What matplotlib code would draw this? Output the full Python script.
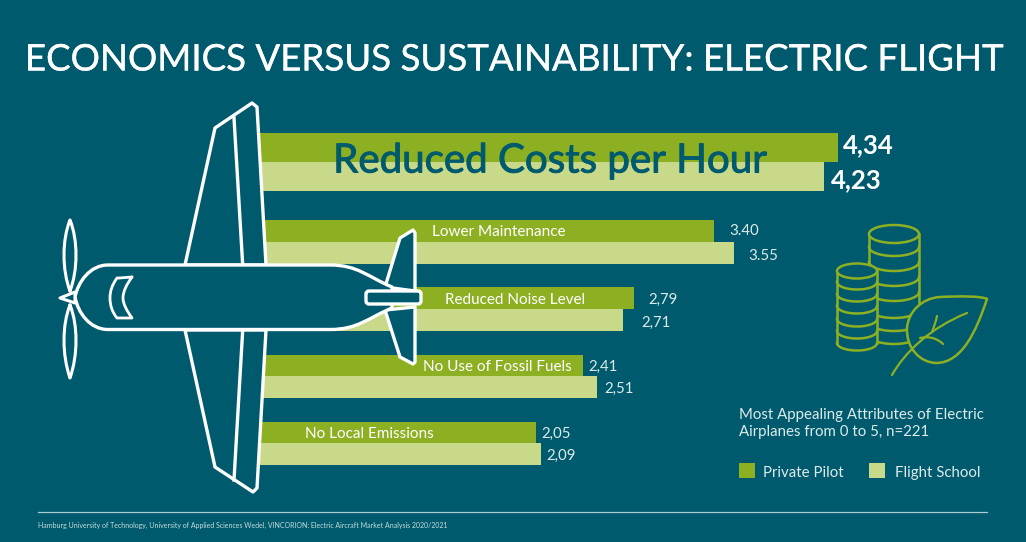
import numpy as np
import matplotlib
matplotlib.use("Agg")
import matplotlib.pyplot as plt
from matplotlib.path import Path
from matplotlib.patches import PathPatch, Polygon, Ellipse, Rectangle, FancyBboxPatch
import matplotlib.patheffects as pe

# Chart data
attributes = ["Reduced Costs per Hour", "Lower Maintenance", "Reduced Noise Level",
              "No Use of Fossil Fuels", "No Local Emissions"]
private_pilot = [4.34, 3.40, 2.79, 2.41, 2.05]
flight_school = [4.23, 3.55, 2.71, 2.51, 2.09]
private_labels = ["4,34", "3.40", "2,79", "2,41", "2,05"]
school_labels = ["4,23", "3.55", "2,71", "2,51", "2,09"]

# Colours
BG = "#005a6e"
GREEN = "#8db023"
LIGHT = "#c8d98a"
WHITE = "#ffffff"
SOFT = "#dcebe9"

# Layout, everything measured in pixels of the 1026x542 picture
W, H = 1026, 542
X_ZERO = 264.7
PX_PER_UNIT = 132.2
BAR_BASE = -0.1
row_top = [133, 220, 287.3, 354.7, 421.7]
row_mid = [161.7, 242.3, 309, 376, 443.3]
row_bottom = [190.7, 264, 330.7, 398, 465]
attr_x = [550, 499, 515, 497, 369]
attr_y = [161, 232, 300, 367, 434]
attr_size = [29, 11, 11, 11, 11]
value_size = [18.5, 10.8, 10.8, 10.8, 10.8]
private_label_x = [843, 729, 648, 588, 541]
private_label_y = [145, 231, 300, 367, 434]
school_label_x = [831, 748, 641, 604, 546]
school_label_y = [180, 256, 323, 389, 456]

plt.rcParams["font.family"] = ["Lato", "DejaVu Sans"]
fig = plt.figure(figsize=(W / 100, H / 100), dpi=100, facecolor=BG)

# Bars live in value units on x, picture pixels on y
ax = fig.add_axes([0, 0, 1, 1], facecolor=BG)
ax.set_xlim(-X_ZERO / PX_PER_UNIT, (W - X_ZERO) / PX_PER_UNIT)
ax.set_ylim(H, 0)
ax.axis("off")

for i in range(len(attributes)):
    ax.barh((row_top[i] + row_mid[i]) / 2, private_pilot[i] - BAR_BASE, row_mid[i] - row_top[i],
            left=BAR_BASE, color=GREEN, zorder=1)
    ax.barh((row_mid[i] + row_bottom[i]) / 2, flight_school[i] - BAR_BASE, row_bottom[i] - row_mid[i],
            left=BAR_BASE, color=LIGHT, zorder=1)

# Overlay in plain pixel coordinates for the drawn artwork
art = fig.add_axes([0, 0, 1, 1], facecolor="none")
art.set_xlim(0, W)
art.set_ylim(H, 0)
art.axis("off")


def curve(verts, fill, edge, lw, z=3):
    # verts: first point, then (c1, c2, end) triples
    codes = [Path.MOVETO] + [Path.CURVE4] * (len(verts) - 1)
    art.add_patch(PathPatch(Path(verts, codes), facecolor=fill, edgecolor=edge, lw=lw,
                            joinstyle="round", capstyle="round", zorder=z))


def poly(pts, lw=2.4, z=3):
    art.add_patch(Polygon(pts, closed=True, facecolor=BG, edgecolor=WHITE, lw=lw, joinstyle="round", zorder=z))


# Wings
poly([(185, 265), (215, 128), (252, 103), (257, 107), (266, 265)])
poly([(185, 330), (215, 467), (253, 492), (257, 488), (266, 330)])
art.plot([234, 242.7], [118, 265], color=WHITE, lw=2.4, zorder=3)
art.plot([234, 242.7], [480, 330], color=WHITE, lw=2.4, zorder=3)

# Tail fins
poly([(385, 287), (400, 238), (413, 230), (415, 233), (415, 291)])
poly([(385, 310), (400, 357), (413, 364), (415, 362), (415, 307)])

# Fuselage
art.add_patch(PathPatch(Path(
    [(108, 265), (90, 265), (78, 282), (75, 297), (78, 313), (90, 329.5), (108, 329.5),
     (330, 329.5), (358, 329.5), (368, 318), (392, 308), (392, 287),
     (368, 277), (358, 265), (330, 265), (108, 265)],
    [Path.MOVETO, Path.CURVE4, Path.CURVE4, Path.CURVE4, Path.CURVE4, Path.CURVE4, Path.CURVE4,
     Path.LINETO, Path.CURVE4, Path.CURVE4, Path.CURVE4, Path.LINETO,
     Path.CURVE4, Path.CURVE4, Path.CURVE4, Path.LINETO]),
    facecolor=BG, edgecolor=WHITE, lw=2.4, joinstyle="round", zorder=4))

# Stabilizer
art.add_patch(FancyBboxPatch((366, 291), 55, 13, boxstyle="round,pad=0,rounding_size=3",
                             facecolor=BG, edgecolor=WHITE, lw=2.4, zorder=5))

# Windshield
curve([(132, 277), (122, 278), (117, 278), (117, 278), (112, 285), (110, 291), (110, 298),
       (110, 305), (112, 312), (117, 318), (122, 318), (127, 318), (132, 318),
       (127, 311), (123, 304), (123, 298), (123, 291), (127, 284), (132, 277)],
      BG, WHITE, 2.0, z=5)

# Propeller
curve([(70, 291), (62, 270), (62, 240), (70, 220), (78, 240), (78, 270), (70, 291)], BG, WHITE, 2.2, z=5)
curve([(70, 305), (62, 325), (62, 355), (70, 378), (78, 355), (78, 325), (70, 305)], BG, WHITE, 2.2, z=5)
poly([(60, 298), (75, 292), (75, 303)], lw=2.2, z=6)

# Coin stacks
COIN_LW = 1.8


def stack(cx, rx, ry, top, rings, z):
    bottom = rings[-1]
    art.add_patch(Rectangle((cx - rx, top), 2 * rx, bottom - top, facecolor=BG, edgecolor="none", zorder=z))
    art.plot([cx - rx, cx - rx], [top, bottom], color=GREEN, lw=COIN_LW, zorder=z)
    art.plot([cx + rx, cx + rx], [top, bottom], color=GREEN, lw=COIN_LW, zorder=z)
    art.add_patch(Ellipse((cx, top), 2 * rx, 2 * ry, facecolor=BG, edgecolor=GREEN, lw=COIN_LW, zorder=z))
    t = np.linspace(0, np.pi, 40)
    for r in rings:
        art.plot(cx + rx * np.cos(t), r + ry * np.sin(t), color=GREEN, lw=COIN_LW, zorder=z)


stack(894, 25, 9, 234, [247, 262, 277, 292, 309, 322, 335], 6)
stack(857, 20, 7.5, 271, [282, 294, 306, 319, 331, 343], 7)

# Leaf
curve([(987, 299), (982, 296), (960, 296), (940, 297),
       (922, 298), (908, 312), (907, 328),
       (906, 348), (920, 363), (937, 363),
       (962, 362), (976, 332), (987, 299)], BG, GREEN, 1.8, z=8)
curve([(892, 375), (905, 352), (930, 328), (967, 313)], "none", GREEN, 1.6, z=9)
curve([(937, 316), (936, 321), (934, 327), (932, 332)], "none", GREEN, 1.6, z=9)
curve([(920, 338), (928, 336), (937, 338), (943, 344)], "none", GREEN, 1.6, z=9)

# Title and attribute names
thick = [pe.withStroke(linewidth=0.2, foreground=WHITE)]
art.text(W / 2 + 1, 60, "ECONOMICS VERSUS SUSTAINABILITY: ELECTRIC FLIGHT", color=WHITE,
         fontsize=26.4, ha="center", va="center", path_effects=thick)
for i, name in enumerate(attributes):
    color = BG if i == 0 else WHITE
    effects = [pe.withStroke(linewidth=0.7, foreground=BG)] if i == 0 else None
    art.text(attr_x[i], attr_y[i], name, color=color, fontsize=attr_size[i], ha="center", va="center",
             zorder=10, path_effects=effects)

# Value labels
for i in range(len(attributes)):
    color = WHITE if i == 0 else SOFT
    weight = "bold" if i == 0 else "normal"
    art.text(private_label_x[i], private_label_y[i], private_labels[i], color=color,
             fontsize=value_size[i], va="center", fontweight=weight)
    art.text(school_label_x[i], school_label_y[i], school_labels[i], color=color,
             fontsize=value_size[i], va="center", fontweight=weight)

# Legend block
art.text(739, 415, "Most Appealing Attributes of Electric", color=SOFT, fontsize=10.85, va="center")
art.text(739, 432, "Airplanes from 0 to 5, n=221", color=SOFT, fontsize=10.85, va="center")
art.add_patch(Rectangle((739, 463), 16, 15, facecolor=GREEN, edgecolor="none"))
art.add_patch(Rectangle((869, 463), 16, 15, facecolor=LIGHT, edgecolor="none"))
art.text(763, 473, "Private Pilot", color=SOFT, fontsize=10.85, va="center")
art.text(895, 473, "Flight School", color=SOFT, fontsize=10.85, va="center")

# Footer
art.plot([38, 987], [512, 512], color="#a9cdd0", lw=0.9)
art.text(38, 525, "Hamburg University of Technology, University of Applied Sciences Wedel, VINCORION: "
         "Electric Aircraft Market Analysis 2020/2021", color="#c5dcdc", fontsize=5, va="center")

fig.savefig("out.png", dpi=100, facecolor=BG)
plt.close(fig)
